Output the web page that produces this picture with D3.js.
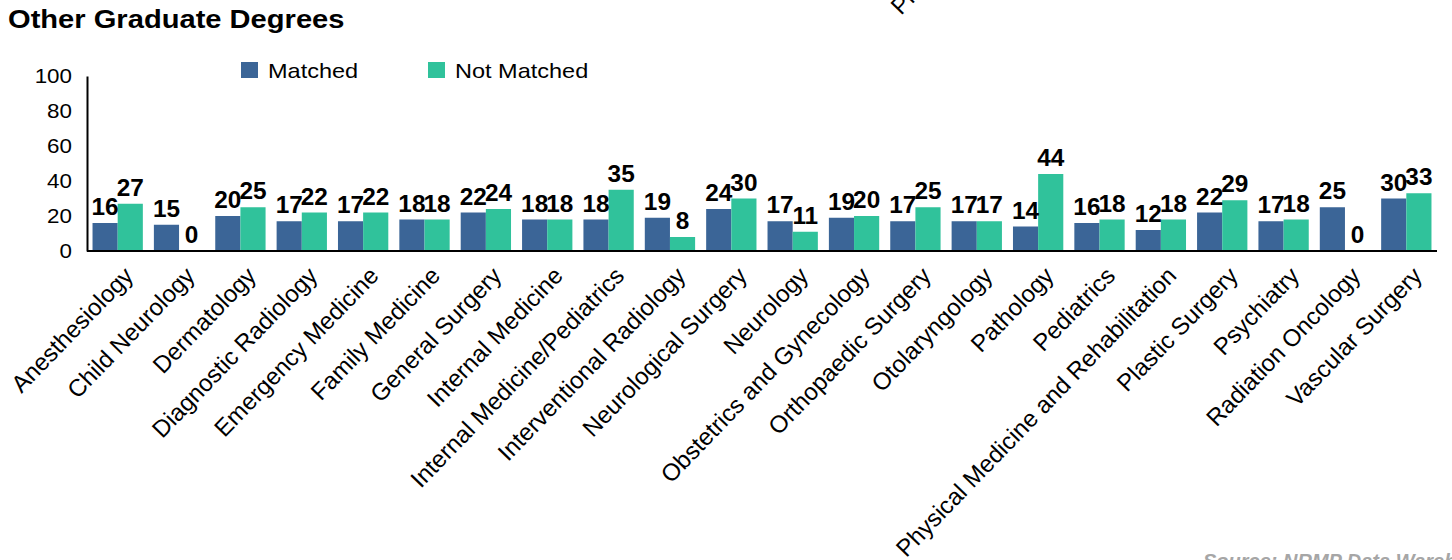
<!DOCTYPE html>
<html>
<head>
<meta charset="utf-8">
<script src="https://cdn.jsdelivr.net/npm/d3@7"></script>
<style>
  body { margin: 0; background: #fff; }
  svg { display: block; font-family: "Liberation Sans", Arial, sans-serif; }
</style>
</head>
<body>
<script>
// Data
const specialties = [
  "Anesthesiology", "Child Neurology", "Dermatology", "Diagnostic Radiology",
  "Emergency Medicine", "Family Medicine", "General Surgery", "Internal Medicine",
  "Internal Medicine/Pediatrics", "Interventional Radiology", "Neurological Surgery",
  "Neurology", "Obstetrics and Gynecology", "Orthopaedic Surgery", "Otolaryngology",
  "Pathology", "Pediatrics", "Physical Medicine and Rehabilitation", "Plastic Surgery",
  "Psychiatry", "Radiation Oncology", "Vascular Surgery"
];
const matched    = [16, 15, 20, 17, 17, 18, 22, 18, 18, 19, 24, 17, 19, 17, 17, 14, 16, 12, 22, 17, 25, 30];
const notMatched = [27, 0, 25, 22, 22, 18, 24, 18, 35, 8, 30, 11, 20, 25, 17, 44, 18, 18, 29, 18, 0, 33];
const seriesNames = ["Matched", "Not Matched"];
const yTicks = [0, 20, 40, 60, 80, 100];

const width = 1452, height = 560;
const marginLeft = 87, marginRight = 15, marginTop = 76, baseY = 251;
const colors = ["#3b6597", "#30c29b"];
const stretch = 1.12; // the reference text is drawn a little wide

const svg = d3.select("body").append("svg")
    .attr("width", width)
    .attr("height", height)
    .attr("viewBox", [0, 0, width, height]);

const x = d3.scaleBand()
    .domain(specialties)
    .range([marginLeft, width - marginRight])
    .paddingInner(0.18)
    .paddingOuter(0.09);

const xSub = d3.scaleBand()
    .domain(seriesNames)
    .range([0, x.bandwidth()]);

const y = d3.scaleLinear()
    .domain([0, 100])
    .range([baseY, marginTop]);

// title
svg.append("text")
    .attr("transform", `translate(8,28) scale(${stretch},1)`)
    .attr("font-size", 26)
    .attr("font-weight", "bold")
    .text("Other Graduate Degrees");

// cut-off label from the chart above
svg.append("text")
    .attr("transform", "translate(901,16) rotate(-46)")
    .attr("font-size", 24)
    .text("Physical Medicine and Rehabilitation");

// y axis
svg.append("g")
    .attr("transform", `translate(${marginLeft},0)`)
    .call(d3.axisLeft(y).tickValues(yTicks).tickSize(0).tickPadding(0))
    .call(g => g.select(".domain").attr("stroke", "#000").attr("stroke-width", 2))
    .call(g => g.selectAll(".tick text")
        .attr("x", null)
        .attr("transform", `translate(-15,0) scale(${stretch},1)`)
        .attr("font-size", 20)
        .attr("font-family", "Liberation Sans, Arial, sans-serif")
        .attr("fill", "#000"));

// bars
const rows = specialties.map((s, i) => ({ s, vals: [matched[i], notMatched[i]] }));

const groups = svg.append("g")
  .selectAll("g")
  .data(rows)
  .join("g")
    .attr("transform", d => `translate(${x(d.s)},0)`);

groups.selectAll("rect")
  .data(d => d.vals.map((v, k) => ({ key: seriesNames[k], v, k })))
  .join("rect")
    .attr("x", d => xSub(d.key))
    .attr("y", d => y(d.v))
    .attr("width", xSub.bandwidth())
    .attr("height", d => baseY - y(d.v))
    .attr("fill", d => colors[d.k]);

groups.selectAll("text")
  .data(d => d.vals.map((v, k) => ({ key: seriesNames[k], v, k })))
  .join("text")
    .attr("transform", d => `translate(${xSub(d.key) + xSub.bandwidth() / 2},${y(d.v) - 8}) scale(1.06,1)`)
    .attr("text-anchor", "middle")
    .attr("font-size", 23)
    .attr("font-weight", "bold")
    .text(d => d.v);

// x axis baseline
svg.append("line")
    .attr("x1", marginLeft)
    .attr("x2", width - marginRight)
    .attr("y1", baseY)
    .attr("y2", baseY)
    .attr("stroke", "#000")
    .attr("stroke-width", 2);

// x labels
svg.append("g")
  .selectAll("text")
  .data(specialties)
  .join("text")
    .attr("transform", d => `translate(${x(d) + x.bandwidth() / 2 + 17},277) rotate(-46)`)
    .attr("text-anchor", "end")
    .attr("font-size", 24)
    .text(d => d);

// legend
const legend = svg.append("g")
  .selectAll("g")
  .data(seriesNames)
  .join("g")
    .attr("transform", (d, i) => `translate(${241 + i * 187},62)`);

legend.append("rect")
    .attr("width", 17)
    .attr("height", 16)
    .attr("fill", (d, i) => colors[i]);

legend.append("text")
    .attr("transform", `translate(27,16) scale(${stretch},1)`)
    .attr("font-size", 21)
    .text(d => d);

// source note, cut off at the bottom
svg.append("text")
    .attr("x", 1203)
    .attr("y", 568)
    .attr("font-size", 20)
    .attr("font-weight", "bold")
    .attr("font-style", "italic")
    .attr("fill", "#a6a6a6")
    .text("Source: NRMP Data Warehouse");
</script>
</body>
</html>
